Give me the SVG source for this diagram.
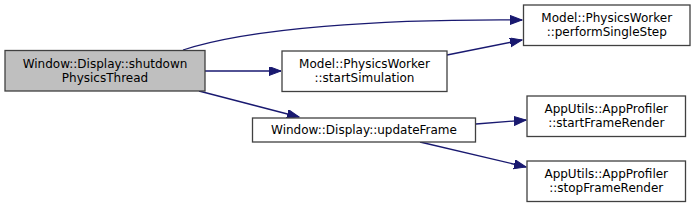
<svg xmlns="http://www.w3.org/2000/svg" width="693" height="208" viewBox="0 0 693 208">
<style>
.node rect{fill:#ffffff;stroke:#404040;stroke-width:1.3}
.node.cur rect{fill:#bfbfbf}
.node text{font-family:"DejaVu Sans",sans-serif;font-size:12px;fill:#000000;text-anchor:middle}
.edges path{fill:none;stroke:#191970;stroke-width:1.3;marker-end:url(#arr)}
</style>
<defs>
<marker id="arr" markerUnits="userSpaceOnUse" markerWidth="14" markerHeight="10" refX="12" refY="4.5" orient="auto">
<path d="M0,0 L12,4.5 L0,9 z" fill="#191970" stroke="#191970" stroke-width="1"/>
</marker>
</defs>
<rect width="693" height="208" fill="#ffffff"/>
<g class="edges">
<path d="M183,50 C250,28 380,19 522,20"/>
<path d="M205,71 L281,71"/>
<path d="M199,91 L299,117"/>
<path d="M447,55 L522,40"/>
<path d="M476,124 L526,120"/>
<path d="M420,142 L526,167"/>
</g>
<g id="n1" class="node cur">
<rect x="5" y="50.5" width="200" height="40.5"/>
<text x="105" y="67.5">Window::Display::shutdown</text>
<text x="105" y="81.5">PhysicsThread</text>
</g>
<g id="n2" class="node">
<rect x="282" y="51" width="165" height="40.5"/>
<text x="364.5" y="67.5">Model::PhysicsWorker</text>
<text x="364.5" y="81.5">::startSimulation</text>
</g>
<g id="n3" class="node">
<rect x="252.5" y="118" width="223" height="24"/>
<text x="364" y="134">Window::Display::updateFrame</text>
</g>
<g id="n4" class="node">
<rect x="523.5" y="5" width="166.5" height="40.5"/>
<text x="606.75" y="21.5">Model::PhysicsWorker</text>
<text x="606.75" y="35.5">::performSingleStep</text>
</g>
<g id="n5" class="node">
<rect x="527" y="96" width="158.5" height="40.5"/>
<text x="606.25" y="112.5">AppUtils::AppProfiler</text>
<text x="606.25" y="126.5">::startFrameRender</text>
</g>
<g id="n6" class="node">
<rect x="527" y="161" width="158.5" height="40.5"/>
<text x="606.25" y="177.5">AppUtils::AppProfiler</text>
<text x="606.25" y="191.5">::stopFrameRender</text>
</g>
</svg>
